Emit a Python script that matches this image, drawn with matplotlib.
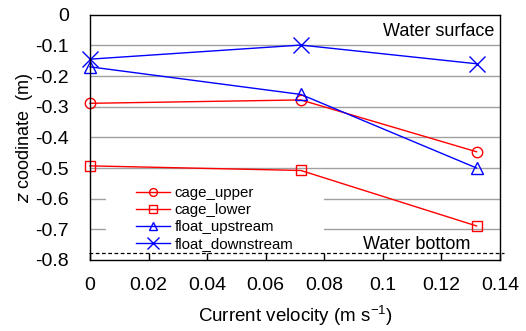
import matplotlib
matplotlib.use("Agg")
import matplotlib.pyplot as plt
from matplotlib.patches import Rectangle

plt.rcParams['font.family'] = ['Liberation Sans', 'DejaVu Sans']

velocity = [0.0, 0.072, 0.132]
cage_upper = [-0.289, -0.278, -0.447]
cage_lower = [-0.493, -0.508, -0.689]
float_upstream = [-0.17, -0.26, -0.50]
float_downstream = [-0.145, -0.099, -0.16]
water_bottom = -0.776
yticks = [0, -0.1, -0.2, -0.3, -0.4, -0.5, -0.6, -0.7, -0.8]
xticks = [0, 0.02, 0.04, 0.06, 0.08, 0.1, 0.12, 0.14]

fig = plt.figure(figsize=(5.26, 3.31), dpi=100)
ax = fig.add_axes([90/526, 1 - 260/331, (500-90)/526, (260-14.7)/331])

ax.set_xlim(0, 0.14)
ax.set_ylim(-0.8, 0)

for yv in yticks[1:-1]:
    ax.axhline(yv, color='#a0a0a0', lw=1.0, zorder=1)

ax.add_patch(Rectangle((0.039, 0.033), 0.532, 0.312, transform=ax.transAxes,
                       facecolor='white', edgecolor='none', zorder=1.5))

ax.plot(velocity, cage_upper, color='red', lw=1, marker='o', ms=7.5, mfc='none', mec='red', mew=1, label='cage_upper', zorder=3, clip_on=False)
ax.plot(velocity, cage_lower, color='red', lw=1, marker='s', ms=7.5, mfc='none', mec='red', mew=1, label='cage_lower', zorder=3, clip_on=False)
ax.plot(velocity, float_upstream, color='blue', lw=1, marker='^', ms=8.5, mfc='none', mec='blue', mew=1, label='float_upstream', zorder=3, clip_on=False)
ax.plot(velocity, float_downstream, color='blue', lw=1, marker='x', ms=11, mfc='none', mec='blue', mew=1, label='float_downstream', zorder=3, clip_on=False)

ax.plot([-0.0005, 0.1415], [water_bottom, water_bottom], color='black', lw=0.9, ls=(0, (3, 2)), clip_on=False, zorder=2)

leg = ax.legend(loc='upper left', bbox_to_anchor=(0.102, 0.318), frameon=False, fontsize=10.8,
                handlelength=2.27, handletextpad=0.27, labelspacing=0.19, borderpad=0.3,
                borderaxespad=0.0, markerscale=0.75)
leg.set_zorder(2.5)

ax.text(0.1380, -0.0695, 'Water surface', ha='right', va='baseline', fontsize=13)
ax.text(0.1300, -0.765, 'Water bottom', ha='right', va='baseline', fontsize=13)

ax.set_xticks(xticks)
ax.set_xticklabels(['0', '0.02', '0.04', '0.06', '0.08', '0.1', '0.12', '0.14'])
ax.set_yticks(yticks)
ax.set_yticklabels(['0', '-0.1', '-0.2', '-0.3', '-0.4', '-0.5', '-0.6', '-0.7', '-0.8'])
ax.tick_params(axis='x', direction='in', length=5, width=1, labelsize=14, pad=12)
ax.tick_params(axis='y', length=0, labelsize=14, pad=15)
for s in ax.spines.values():
    s.set_linewidth(1.0)
    s.set_zorder(4)

ax.set_xlabel('Current velocity (m s$^{\\mathregular{-1}}$)', fontsize=13.5, labelpad=7)
ax.set_ylabel(r'$\it{z}$ coodinate  (m)', fontsize=13, labelpad=0)

fig.savefig('out.png', dpi=100)
